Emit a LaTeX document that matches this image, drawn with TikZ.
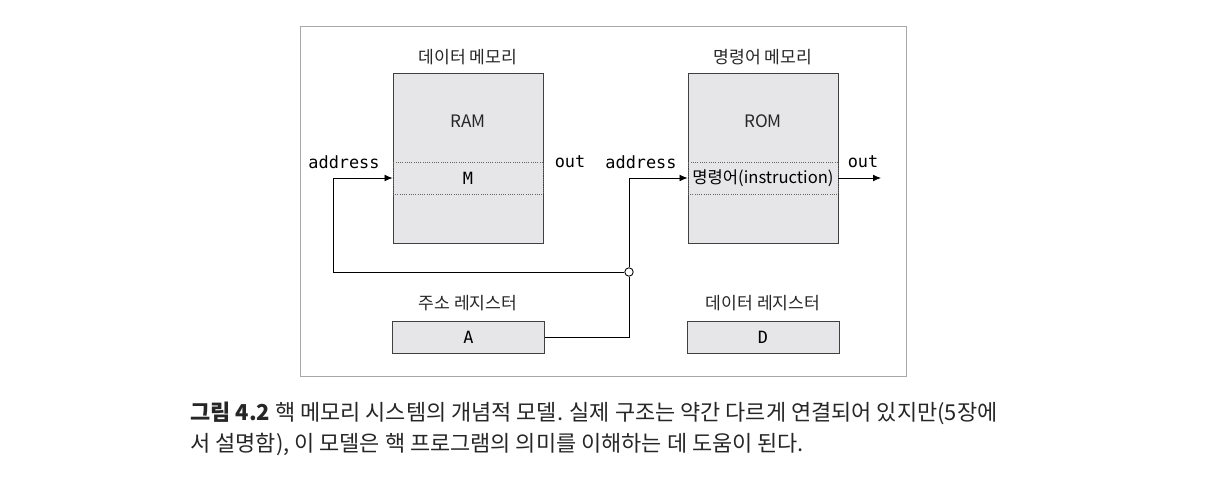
\documentclass[tikz,border=0pt]{standalone}
\usepackage{fontspec}
\setmainfont{Noto Sans CJK KR}
\newfontfamily\mono{DejaVu Sans Mono}
\usepackage{tikz}
\usetikzlibrary{arrows.meta}
\usetikzlibrary{positioning}
\definecolor{memgray}{HTML}{E6E6E8}
\definecolor{framegray}{HTML}{A8A8A8}
\tikzset{mem/.style={draw=black!75,fill=memgray,minimum width=3.75cm,minimum height=4.25cm,inner sep=0pt}}
\tikzset{cell/.style={draw=black!60,densely dotted,minimum width=3.75cm,minimum height=0.8cm,inner sep=0pt}}
\tikzset{reg/.style={draw=black!75,fill=memgray,minimum width=3.8cm,minimum height=0.8cm,inner sep=0pt,font=\mono\fontsize{12}{14}\selectfont}}
\tikzset{title/.style={text=black!85,font=\fontsize{12.2}{14}\selectfont}}
\tikzset{pin/.style={font=\mono\fontsize{12}{14}\selectfont}}
\tikzset{jdot/.style={circle,draw,fill=white,inner sep=0pt,minimum size=6pt}}
\tikzset{arrow/.style={-{Latex[length=2mm,width=1.7mm]}}}
\tikzset{caption/.style={anchor=west,inner sep=0pt,text=black!85,font=\fontsize{15.6}{18}\selectfont}}
\newcommand{\figframe}{
    \draw[framegray] (300,26) rectangle (906,376);
}

\begin{document}
\begin{tikzpicture}[x=0.025cm,y=-0.025cm,line width=0.6pt]
        \useasboundingbox (0,0) rectangle (1208,478);
        \figframe

        \node[mem] (ram) at (468,158) {};
        \node[mem] (rom) at (763,158) {};
        \node[title] (ramt) at (468,57) {데이터 메모리};
        \node[title] (romt) at (763,57) {명령어 메모리};
        \node[title] (ramn) at (468,121) {RAM};
        \node[title] (romn) at (763,121) {ROM};
        \node[cell,font=\mono\fontsize{12}{14}\selectfont] (mcl) at (468,178) {M};
        \node[cell,font=\fontsize{11.8}{13}\selectfont] (ins) at (763,178) {명령어(instruction)};

        \node[pin] (rad) at (344,162) {address};
        \node[pin] (rou) at (570,162) {out};
        \node[pin] (oad) at (641,162) {address};
        \node[pin] (oou) at (863,162) {out};

        \node[title] (aregt) at (468,303) {주소 레지스터};
        \node[title] (dregt) at (763,303) {데이터 레지스터};
        \node[reg] (areg) at (468.5,337) {A};
        \node[reg] (dreg) at (763,337) {D};

        \node[jdot] (jn) at (629,272) {};
        \coordinate (lft) at (333,272);
        \coordinate (outp) at (881,178);

        \draw (areg.east) -| (jn);
        \draw[arrow] (jn) -- (lft) |- (mcl.west);
        \draw[arrow] (jn) |- (ins.west);
        \draw[arrow] (ins.east) -- (outp);

        \node[caption] (cap1) at (190,413)
            {\textbf{그림 4.2} 핵 메모리 시스템의 개념적 모델. 실제 구조는 약간 다르게 연결되어 있지만(5장에};
        \node[caption] (cap2) at (190,444)
            {서 설명함), 이 모델은 핵 프로그램의 의미를 이해하는 데 도움이 된다.};
    \end{tikzpicture}
\end{document}
